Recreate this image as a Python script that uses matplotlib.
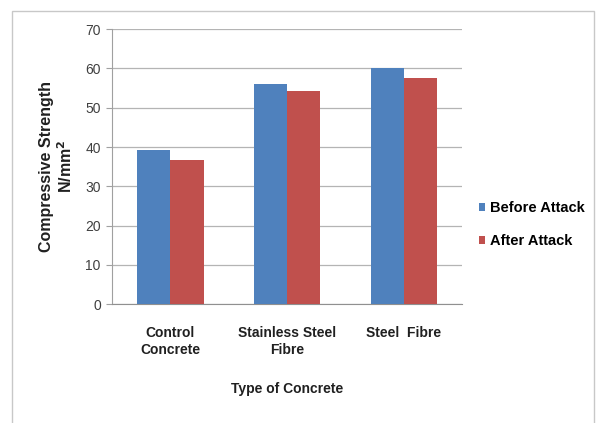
import matplotlib.pyplot as plt
import numpy as np
from matplotlib.patches import Rectangle

# compressive strength of the three concrete types, before/after the attack
categories = ['Control\nConcrete', 'Stainless Steel\nFibre', 'Steel  Fibre']
before_attack = [39.2, 56.1, 60.0]
after_attack = [36.6, 54.2, 57.6]
y_ticks = [0, 10, 20, 30, 40, 50, 60, 70]

plt.rcParams['font.family'] = ['Liberation Sans', 'DejaVu Sans']

fig = plt.figure(figsize=(6.05, 4.23), dpi=100)
ax = fig.add_axes([0.185, 0.281, 0.579, 0.650])

# outer chart frame
fig.patches.append(Rectangle((0.02, -0.05), 0.961, 1.024, transform=fig.transFigure,
                             fill=False, edgecolor='#c8c8c8', linewidth=1.0))

x = np.arange(len(categories))
w = 0.285
ax.bar(x - w / 2, before_attack, w, color='#4F81BD', label='Before Attack', zorder=3)
ax.bar(x + w / 2, after_attack, w, color='#C0504D', label='After Attack', zorder=3)

ax.set_xlim(-0.5, len(categories) - 0.5)
ax.set_ylim(0, 70)
ax.set_yticks(y_ticks)
ax.set_yticklabels([str(t) for t in y_ticks], fontsize=10, color='#404040')
ax.set_xticks(x)
ax.set_xticklabels(categories, fontsize=10, fontweight='bold', color='#202020')

ax.grid(axis='y', color='#b4b4b4', linewidth=0.9, zorder=0)
for side in ['top', 'right']:
    ax.spines[side].set_visible(False)
ax.spines['left'].set_color('#a0a0a0')
ax.spines['bottom'].set_color('#909090')
ax.tick_params(axis='y', length=4, color='#a0a0a0', pad=4)
ax.tick_params(axis='x', length=0, pad=16)

ax.set_ylabel('Compressive Strength\nN/mm$^{\\mathbf{2}}$', fontsize=11.5, fontweight='bold',
              color='#202020', labelpad=7, linespacing=1.2)
ax.set_xlabel('Type of Concrete', fontsize=10, fontweight='bold', color='#202020', labelpad=18)

ax.legend(loc='center left', bbox_to_anchor=(1.01, 0.29), frameon=False,
          prop={'weight': 'bold', 'size': 10.5}, handlelength=0.45, handleheight=0.45,
          handletextpad=0.3, labelspacing=1.3)

fig.savefig('out.png', dpi=100)
